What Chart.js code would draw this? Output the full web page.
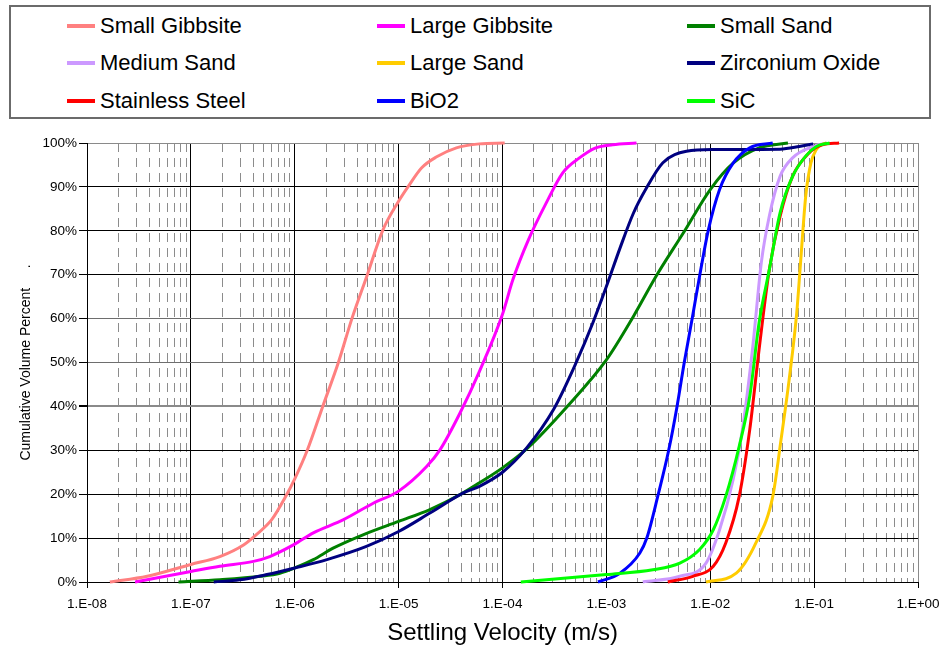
<!DOCTYPE html>
<html>
<head>
<meta charset="utf-8">
<script src="https://cdn.jsdelivr.net/npm/chart.js@4/dist/chart.umd.min.js"></script>
<style>
  body { margin: 0; background: #fff; }
  #wrap { position: relative; width: 940px; height: 645px; }
  #legend {
    position: absolute; left: 9px; top: 5px; width: 922px; height: 114px;
    box-sizing: border-box; border: 2px solid #6b6b6b; background: #fff;
    display: grid; grid-template-columns: 310px 310px 310px; grid-auto-rows: 37.5px;
    padding-left: 56px; font: 22px "Liberation Sans", Arial, sans-serif; color: #000;
  }
  .item { display: flex; align-items: center; white-space: nowrap; }
  .swatch { width: 28px; height: 4px; margin-right: 5px; }
</style>
</head>
<body>
<div id="wrap">
  <canvas id="settlingChart"></canvas>
  <div id="legend"></div>
</div>
<script>
// 값은 그림에서 읽은 추정치 (속도 m/s, 누적 부피 %)
const seriesNames = ['Small Gibbsite', 'Large Gibbsite', 'Small Sand', 'Medium Sand', 'Large Sand',
  'Zirconium Oxide', 'Stainless Steel', 'BiO2', 'SiC'];
const seriesColors = ['#FF8080', '#FF00FF', '#008000', '#CC99FF', '#FFCC00',
  '#000080', '#FF0000', '#0000FF', '#00FF00'];

const smallGibbsiteV = [1.66e-8, 3.8e-8, 1.0e-7, 1.9e-7, 3.24e-7, 4.27e-7, 6.0e-7, 8.1e-7, 1.0e-6, 1.32e-6, 1.86e-6,
  2.63e-6, 3.55e-6, 5.0e-6, 7.0e-6, 9.8e-6, 1.23e-5, 1.66e-5, 2.3e-5, 3.6e-5, 6.0e-5, 1.05e-4];
const smallGibbsitePct = [0, 1.3, 4.0, 5.8, 8.5, 10.8, 14.2, 19.3, 23.5, 30, 40,
  50, 60, 70, 80, 86.4, 90, 94.3, 96.8, 98.9, 99.8, 100];

const largeGibbsiteV = [2.9e-8, 1.0e-7, 1.9e-7, 4.0e-7, 5.75e-7, 9.8e-7, 1.51e-6, 2.95e-6, 5.75e-6, 1.0e-5, 1.86e-5,
  2.5e-5, 3.9e-5, 6.0e-5, 1.0e-4, 1.26e-4, 1.78e-4, 2.63e-4, 3.8e-4, 5.5e-4, 7.9e-4, 1.15e-3, 1.95e-3];
const largeGibbsitePct = [0, 2.4, 3.6, 4.7, 5.8, 8.5, 11.2, 14.2, 18, 20.7, 26.3,
  30.1, 38.5, 48, 61, 68.9, 78, 86.3, 93.2, 96.6, 98.9, 99.6, 100];

const smallSandV = [7.6e-8, 1.9e-7, 4.7e-7, 7.2e-7, 1.0e-6, 1.51e-6, 2.34e-6, 4.6e-6, 1.0e-5, 2.0e-5, 3.9e-5,
  6.0e-5, 1.0e-4, 1.74e-4, 4.2e-4, 1.0e-3, 1.82e-3, 3.0e-3, 5.5e-3, 1.0e-2, 1.66e-2, 2.95e-2, 5.6e-2];
const smallSandPct = [0, 0.5, 1.3, 2, 3.2, 5.1, 7.7, 10.8, 13.8, 16.5, 19.9,
  22.6, 26, 30.5, 40, 50.6, 60.5, 69.6, 79.5, 89.4, 95.4, 98.9, 100];

const mediumSandV = [2.24e-3, 5.1e-3, 9.1e-3, 1.23e-2, 1.66e-2, 2.04e-2, 2.57e-2, 3.1e-2, 3.7e-2, 4.7e-2, 6.2e-2, 9.8e-2, 1.32e-1];
const mediumSandPct = [0, 1.3, 4.3, 11.9, 23.3, 34.7, 53.7, 72.7, 83.3, 92.4, 96.6, 99.2, 100];

const largeSandV = [9.1e-3, 1.78e-2, 2.75e-2, 4.0e-2, 4.8e-2, 5.75e-2, 6.8e-2, 7.4e-2, 8.3e-2, 9.3e-2, 1.05e-1, 1.17e-1, 1.32e-1];
const largeSandPct = [0, 2, 8.9, 19.5, 32.4, 46.1, 61.3, 72.7, 87.9, 95.4, 98.5, 99.6, 100];

const zirconiumOxideV = [1.66e-7, 2.95e-7, 5.4e-7, 1.0e-6, 2.04e-6, 4.9e-6, 1.0e-5, 2.0e-5, 4.2e-5, 6.0e-5, 1.0e-4,
  1.7e-4, 3.1e-4, 5.1e-4, 7.4e-4, 1.0e-3, 1.35e-3, 1.82e-3, 2.4e-3, 3.5e-3, 5.9e-3, 1.07e-2, 4.7e-2, 7.2e-2, 9.8e-2];
const zirconiumOxidePct = [0, 0.5, 1.7, 3.2, 5.1, 8.1, 11.5, 15.7, 20.3, 21.8, 25,
  30.5, 39.3, 49.9, 59, 67.3, 76, 84, 89.5, 95.5, 98.1, 98.5, 98.6, 99.2, 99.8];

const stainlessSteelV = [3.9e-3, 6.8e-3, 1.07e-2, 1.41e-2, 1.9e-2, 2.4e-2, 2.95e-2, 3.7e-2, 4.7e-2, 6.2e-2, 8.9e-2, 1.2e-1, 1.74e-1];
const stainlessSteelPct = [0, 1.3, 3.6, 8.9, 19.5, 34.7, 52.9, 71.1, 83.3, 92.4, 97.7, 99.6, 100];

const bio2V = [8.3e-4, 1.35e-3, 2.1e-3, 2.45e-3, 3.16e-3, 3.98e-3, 4.79e-3, 5.62e-3, 6.7e-3, 7.94e-3, 9.55e-3,
  1.23e-2, 1.66e-2, 2.4e-2, 4.0e-2];
const bio2Pct = [0, 2, 6.6, 10, 20, 30, 40, 50, 60, 70, 80, 89.4, 95.4, 98.9, 100];

const sicV = [1.5e-4, 1.0e-3, 2.8e-3, 5.1e-3, 7.9e-3, 1.07e-2, 1.41e-2, 1.9e-2, 2.4e-2, 2.95e-2, 3.7e-2, 4.7e-2, 6.2e-2, 8.3e-2, 1.05e-1, 1.41e-1];
const sicPct = [0, 1.7, 2.8, 4.3, 7.4, 11.9, 19.5, 30.9, 42.3, 59, 71.1, 84.1, 92.4, 97, 99.2, 100];

const xTickValues = [1e-8, 1e-7, 1e-6, 1e-5, 1e-4, 1e-3, 1e-2, 1e-1, 1];
const xTickLabels = ['1.E-08', '1.E-07', '1.E-06', '1.E-05', '1.E-04', '1.E-03', '1.E-02', '1.E-01', '1.E+00'];
const yTickValues = [0, 10, 20, 30, 40, 50, 60, 70, 80, 90, 100];
const yTickLabels = ['0%', '10%', '20%', '30%', '40%', '50%', '60%', '70%', '80%', '90%', '100%'];

const seriesV = [smallGibbsiteV, largeGibbsiteV, smallSandV, mediumSandV, largeSandV,
  zirconiumOxideV, stainlessSteelV, bio2V, sicV];
const seriesPct = [smallGibbsitePct, largeGibbsitePct, smallSandPct, mediumSandPct, largeSandPct,
  zirconiumOxidePct, stainlessSteelPct, bio2Pct, sicPct];

// 보조 눈금선 위치 (2~9 x 10^n)
const minorGridValues = [];
xTickValues.slice(0, -1).forEach((d) => {
  for (let k = 2; k <= 9; k++) minorGridValues.push(k * d);
});

const font = 'Liberation Sans';
const grayLines = { 40: '#8a8a8a', 50: '#6e6e6e', 60: '#6e6e6e', 100: '#8a8a8a' };

const datasets = seriesNames.map((name, i) => ({
  label: name,
  data: seriesV[i].map((v, j) => ({ x: v, y: seriesPct[i][j] })),
  borderColor: seriesColors[i],
  backgroundColor: seriesColors[i],
  borderWidth: 3,
  pointRadius: 0,
  cubicInterpolationMode: 'monotone',
  clip: 4,
  order: -i,
}));

const config = {
  type: 'line',
  data: { datasets },
  options: {
    responsive: true,
    maintainAspectRatio: false,
    animation: false,
    layout: { padding: { top: 143, right: 22, left: 0, bottom: 0 } },
    plugins: {
      legend: { display: false },
      tooltip: { enabled: false },
    },
    scales: {
      x: {
        type: 'logarithmic',
        position: 'bottom',
        min: 1e-8,
        max: 1,
        afterBuildTicks: (scale) => { scale.ticks = xTickValues.map((v) => ({ value: v })); },
        afterFit: (scale) => {
          scale.height = 63;
          scale.paddingLeft = 0;
          scale.paddingRight = 0;
        },
        ticks: {
          autoSkip: false,
          maxRotation: 0,
          padding: 8,
          color: '#000',
          font: { family: font, size: 13.5 },
          callback: (v, i) => xTickLabels[i],
        },
        grid: {
          color: (ctx) => (ctx.index === xTickValues.length - 1 ? '#8a8a8a' : '#000'),
          lineWidth: 1,
          tickLength: 6,
          tickColor: '#000',
        },
        border: { display: true, color: '#000', width: 1 },
        title: {
          display: true,
          text: 'Settling Velocity (m/s)',
          color: '#000',
          font: { family: font, size: 24, lineHeight: 1 },
          padding: { top: 0, bottom: 0 },
        },
      },
      xMinor: {
        type: 'logarithmic',
        position: 'bottom',
        min: 1e-8,
        max: 1,
        afterBuildTicks: (scale) => { scale.ticks = minorGridValues.map((v) => ({ value: v })); },
        afterFit: (scale) => {
          scale.height = 0;
          scale.paddingLeft = 0;
          scale.paddingRight = 0;
        },
        ticks: { display: false },
        grid: { color: '#8c8c8c', lineWidth: 1, drawTicks: false },
        border: { display: false, dash: [9, 6] },
      },
      y: {
        min: 0,
        max: 100,
        afterBuildTicks: (scale) => { scale.ticks = yTickValues.map((v) => ({ value: v })); },
        afterFit: (scale) => { scale.width = 87; },
        ticks: {
          padding: 2,
          color: '#000',
          font: { family: font, size: 13.5 },
          callback: (v, i) => yTickLabels[i],
        },
        grid: {
          color: (ctx) => grayLines[ctx.tick && ctx.tick.value] || '#000',
          lineWidth: (ctx) => (ctx.tick && ctx.tick.value === 40 ? 2 : 1),
          tickLength: 8,
          tickColor: '#000',
        },
        border: { display: true, color: '#000', width: 1 },
        title: {
          display: true,
          text: 'Cumulative Volume Percent     .',
          color: '#000',
          font: { family: font, size: 14, lineHeight: 1.2 },
          padding: { top: 18, bottom: 0 },
        },
      },
    },
  },
};

const chart = new Chart(document.getElementById('settlingChart'), config);

// 3열 범례 (데이터셋에서 생성)
const legendBox = document.getElementById('legend');
chart.data.datasets.forEach((ds) => {
  const item = document.createElement('div');
  item.className = 'item';
  const sw = document.createElement('span');
  sw.className = 'swatch';
  sw.style.background = ds.borderColor;
  const label = document.createElement('span');
  label.textContent = ds.label;
  item.appendChild(sw);
  item.appendChild(label);
  legendBox.appendChild(item);
});
</script>
</body>
</html>
